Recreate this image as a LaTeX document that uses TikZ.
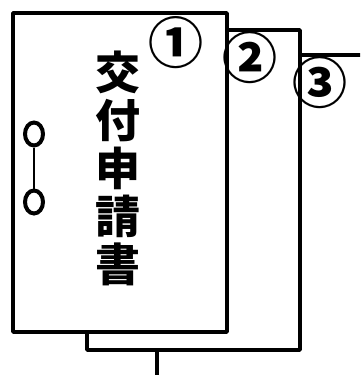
\documentclass[tikz,border=0pt]{standalone}
\usepackage{fontspec}
\usetikzlibrary{shapes.geometric}
\newfontfamily\cjk{Noto Sans CJK JP}
\begin{document}
\begin{tikzpicture}[x=1pt,y=-1pt,
  page/.style={draw=black,line width=3.5pt,fill=white,line join=round},
  ring/.style={draw=black,line width=4pt,fill=white,ellipse,minimum width=18pt,minimum height=23pt,inner sep=0pt},
  num/.style={font=\cjk\bfseries\fontsize{55}{55}\selectfont,inner sep=0pt},
  title/.style={font=\cjk\bfseries\fontsize{45}{48}\selectfont,align=center,inner sep=0pt}]
\useasboundingbox (0,0) rectangle (360,375);
\clip (0,0) rectangle (360,375);
% third page
\draw[page] (157,55) rectangle (420,430);
% second page
\draw[page] (87,30) rectangle (300,350);
% front page
\draw[page] (13,13) rectangle (227,332);
% binder rings
\node[ring] (r1) at (34,134) {};
\node[ring] (r2) at (34,202) {};
\draw[line width=2.5pt] (r1) -- (r2);
% title
\node[title] (t) at (118,168) {交\\付\\申\\請\\書};
% numbers
\node[num] (n1) at (176,43) {①};
\node[num] (n2) at (250,58) {②};
\node[num] (n3) at (320,83) {③};
\end{tikzpicture}
\end{document}
